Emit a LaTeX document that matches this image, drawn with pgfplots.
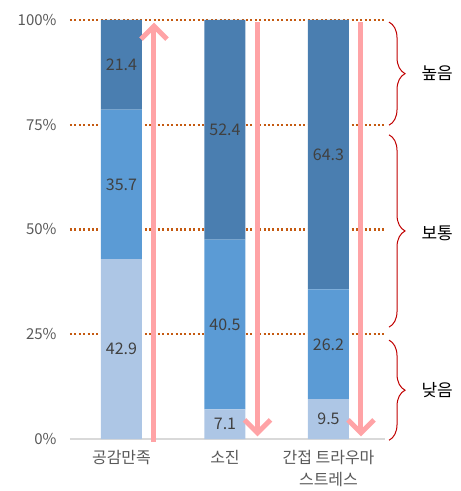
\documentclass[border=0pt]{standalone}
\usepackage{fontspec}
\setmainfont{Noto Sans CJK KR}
\usepackage{pgfplots}
\pgfplotsset{compat=1.18}
\usetikzlibrary{arrows.meta,decorations.pathreplacing}
\definecolor{cTop}{HTML}{4A7EB0}
\definecolor{cMid}{HTML}{5B9BD5}
\definecolor{cLow}{HTML}{ADC6E5}
\definecolor{cArrow}{HTML}{FFA3A6}
\definecolor{cGrid}{HTML}{C55A11}
\definecolor{cBrace}{HTML}{C00000}
\definecolor{cTick}{HTML}{595959}
\definecolor{cVal}{HTML}{404040}
\begin{document}
\begin{tikzpicture}[x=1pt,y=1pt]
\path[use as bounding box] (0,0) rectangle (461,491);
\pgfplotsset{base/.style={at={(70pt,52pt)}, anchor=south west, scale only axis,
  width=315pt, height=419pt, xmin=-0.4976, xmax=2.546, ymin=0, ymax=100, clip=false}}
\begin{axis}[base, ybar stacked, bar width=41pt,
  axis line style={draw=none}, major tick length=0pt, tick style={draw=none},
  xtick={0,1,2}, xticklabels={공감만족,소진,{간접 트라우마\\스트레스}},
  xticklabel style={align=center, text=cTick, font=\fontsize{16}{22}\selectfont, yshift=-8pt},
  ytick={25,50,75,100}, yticklabels={25\%,50\%,75\%,100\%},
  extra y ticks={0}, extra y tick labels={0\%},
  extra y tick style={grid style={draw=black!15, solid, line width=1.5pt}},
  yticklabel style={text=cTick, font=\fontsize{15}{17}\selectfont, xshift=-10pt},
  ymajorgrids, grid style={cGrid, line width=2.2pt, dash pattern=on 2pt off 2.4pt},
]
\addplot[fill=cLow, draw=none] coordinates {(0,42.9) (1,7.1) (2,9.5)};
\addplot[fill=cMid, draw=none] coordinates {(0,35.7) (1,40.5) (2,26.2)};
\addplot[fill=cTop, draw=none] coordinates {(0,21.4) (1,52.4) (2,64.3)};
\end{axis}
\begin{axis}[base, hide axis]
\addplot[draw=none, nodes near coords, point meta=explicit symbolic,
  nodes near coords style={anchor=center, text=cVal, font=\fontsize{16}{18}\selectfont}]
  coordinates {(0,21.45)[42.9] (0,60.75)[35.7] (0,89.3)[21.4]
               (1,3.55)[7.1] (1,27.35)[40.5] (1,73.8)[52.4]
               (2,4.75)[9.5] (2,22.6)[26.2] (2,67.85)[64.3]};
\addplot[cArrow, line width=5pt, -{Straight Barb[length=13pt,width=26pt]}] coordinates {(0.314,-0.7) (0.314,99.4)};
\addplot[cArrow, line width=5pt, -{Straight Barb[length=13pt,width=26pt]}] coordinates {(1.314,99.5) (1.314,0.6)};
\addplot[cArrow, line width=5pt, -{Straight Barb[length=13pt,width=26pt]}] coordinates {(2.314,99.5) (2.314,0.6)};
\draw[cBrace, line width=1pt, decorate, decoration={brace, amplitude=16pt}] (axis cs:2.585,99.5) -- (axis cs:2.585,74.9);
\draw[cBrace, line width=1pt, decorate, decoration={brace, amplitude=16pt}] (axis cs:2.585,72.6) -- (axis cs:2.585,26.7);
\draw[cBrace, line width=1pt, decorate, decoration={brace, amplitude=16pt}] (axis cs:2.585,23.6) -- (axis cs:2.585,-0.3);
\node[font=\fontsize{17}{19}\selectfont] at (axis cs:3.05,87.35) {높음};
\node[font=\fontsize{17}{19}\selectfont] at (axis cs:3.05,49.2) {보통};
\node[font=\fontsize{17}{19}\selectfont] at (axis cs:3.05,11.7) {낮음};
\end{axis}
\end{tikzpicture}
\end{document}
